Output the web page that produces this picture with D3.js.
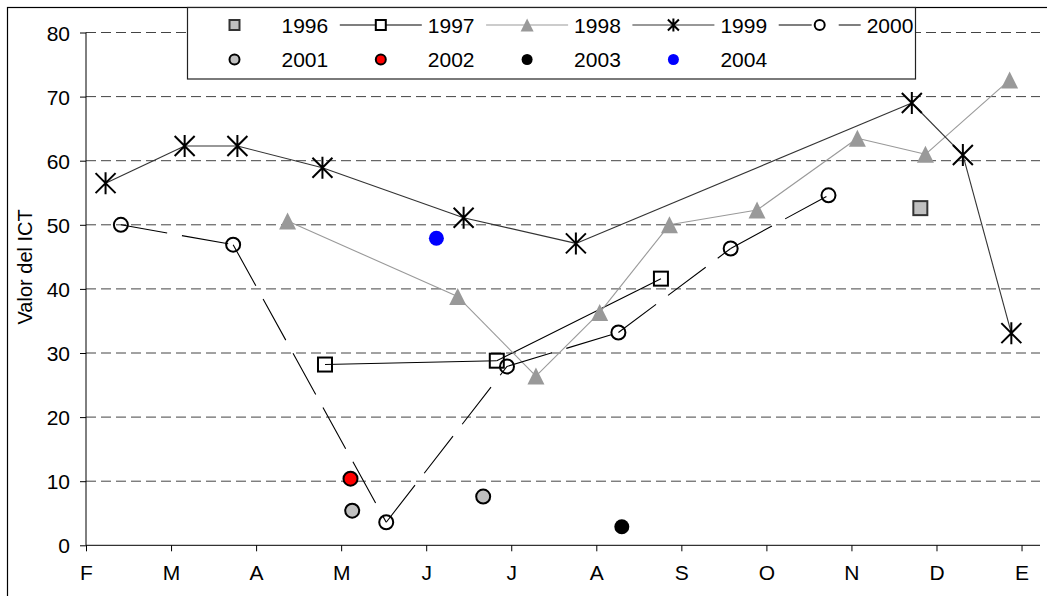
<!DOCTYPE html>
<html>
<head>
    <meta charset="UTF-8">
    <title>Valor del ICT</title>
    <script type="text/javascript" src="https://d3js.org/d3.v7.min.js"></script>
    <style>
        body { margin: 0; background: #fff; }
        text { font-family: "Liberation Sans", Arial, sans-serif; font-size: 21px; fill: #000; }
    </style>
</head>
<body>
<div id="chart"></div>
<script>
    // month tick labels; x is measured in months from the first tick (F)
    var monthLabels = ["F", "M", "A", "M", "J", "J", "A", "S", "O", "N", "D", "E"];
    var monthPos = [0, 1, 2, 3, 4, 5, 6, 7, 8, 9, 10, 11];
    var yTicks = [0, 10, 20, 30, 40, 50, 60, 70, 80];

    // one pair of arrays per year: position (months) and ICT value
    var mon1996 = [9.81];
    var ict1996 = [52.6];
    var mon1997 = [2.81, 4.83, 6.76];
    var ict1997 = [28.2, 28.8, 41.6];
    var mon1998 = [2.37, 4.37, 5.29, 6.04, 6.86, 7.89, 9.07, 9.87, 10.86];
    var ict1998 = [50.6, 38.8, 26.4, 36.3, 50.0, 52.3, 63.5, 61.0, 72.6];
    var mon1999 = [0.23, 1.16, 1.78, 2.78, 4.44, 5.76, 9.71, 10.31, 10.88];
    var ict1999 = [56.5, 62.3, 62.3, 58.9, 51.1, 47.1, 69.0, 60.9, 33.1];
    var mon2000 = [0.41, 1.73, 3.53, 4.95, 6.26, 7.58, 8.73];
    var ict2000 = [50.0, 46.9, 3.6, 27.9, 33.2, 46.3, 54.6];
    var mon2001 = [3.13, 4.67];
    var ict2001 = [5.4, 7.6];
    var mon2002 = [3.11];
    var ict2002 = [10.4];
    var mon2003 = [6.30];
    var ict2003 = [2.9];
    var mon2004 = [4.12];
    var ict2004 = [47.9];

    var width = 1047, height = 596;
    var margin = {top: 32.5, right: 7, bottom: 50.7, left: 86};
    var xMax = 11.217;

    var svg = d3.select("#chart").append("svg")
        .attr("width", width).attr("height", height);

    // outer chart frame
    svg.append("rect")
        .attr("x", 7.5).attr("y", 7.5)
        .attr("width", width).attr("height", height)
        .attr("fill", "none").attr("stroke", "#000").attr("stroke-width", 1.2);

    var x = d3.scaleLinear().domain([0, xMax]).range([margin.left, width - margin.right]);
    var y = d3.scaleLinear().domain([0, 80]).range([height - margin.bottom, margin.top]);

    // dashed gridlines
    svg.append("g").selectAll("line")
        .data(yTicks.filter(function (d) { return d > 0; }))
        .enter().append("line")
        .attr("x1", x(0)).attr("x2", x(xMax))
        .attr("y1", function (d) { return y(d); })
        .attr("y2", function (d) { return y(d); })
        .attr("stroke", "#444").attr("stroke-width", 1)
        .attr("stroke-dasharray", "10,5");

    // y axis
    var yAxis = svg.append("g")
        .attr("transform", "translate(" + x(0) + ",0)")
        .call(d3.axisLeft(y).tickValues(yTicks).tickSize(6).tickPadding(10));
    // x axis
    var xAxis = svg.append("g")
        .attr("transform", "translate(0," + y(0) + ")")
        .call(d3.axisBottom(x).tickValues(monthPos).tickSize(6).tickPadding(14)
            .tickFormat(function (d, i) { return monthLabels[i]; }));

    [yAxis, xAxis].forEach(function (a) {
        a.select(".domain").attr("stroke", "#000");
        a.selectAll(".tick line").attr("stroke", "#000");
        a.selectAll("text").attr("fill", "#000");
        a.attr("font-size", null).attr("font-family", null);
    });
    yAxis.select(".domain").attr("d", "M0," + y(80) + "V" + y(0));
    xAxis.select(".domain").attr("d", "M" + x(0) + ",0H" + x(xMax));
    yAxis.selectAll(".tick text").attr("dy", "0.36em");

    svg.append("text")
        .attr("transform", "translate(" + 32 + "," + (y(40) - 22) + ") rotate(-90)")
        .attr("text-anchor", "middle")
        .style("font-size", "20px")
        .text("Valor del ICT");

    function pts(xs, vals) {
        return xs.map(function (d, i) { return [x(d), y(vals[i])]; });
    }

    var line = d3.line();
    var lines = [
        {p: pts(mon1997, ict1997), stroke: "#000", dash: null},
        {p: pts(mon1998, ict1998), stroke: "#999", dash: null},
        {p: pts(mon1999, ict1999), stroke: "#333", dash: null},
        {p: pts(mon2000, ict2000), stroke: "#000", dash: "47,15"}
    ];
    lines.forEach(function (l) {
        // each segment restarts the dash pattern
        for (var i = 0; i < l.p.length - 1; i++) {
            svg.append("path")
                .attr("d", line([l.p[i], l.p[i + 1]]))
                .attr("fill", "none").attr("stroke", l.stroke).attr("stroke-width", 1.1)
                .attr("stroke-dasharray", l.dash);
        }
    });

    // marker drawers
    function square(g, cx, cy, s, fill, stroke) {
        g.append("rect").attr("x", cx - s / 2).attr("y", cy - s / 2)
            .attr("width", s).attr("height", s)
            .attr("fill", fill).attr("stroke", stroke).attr("stroke-width", 2);
    }
    function triangle(g, cx, cy, s) {
        g.append("path")
            .attr("d", "M" + cx + "," + (cy - s / 2) + "L" + (cx + s / 2) + "," + (cy + s / 2) + "L" + (cx - s / 2) + "," + (cy + s / 2) + "Z")
            .attr("fill", "#999");
    }
    function star(g, cx, cy, r) {
        g.append("path")
            .attr("d", "M" + cx + "," + (cy - r - 1) + "V" + (cy + r + 1) +
                "M" + (cx - r) + "," + (cy - r) + "L" + (cx + r) + "," + (cy + r) +
                "M" + (cx - r) + "," + (cy + r) + "L" + (cx + r) + "," + (cy - r))
            .attr("stroke", "#000").attr("stroke-width", 2).attr("fill", "none");
    }
    function circle(g, cx, cy, r, fill, stroke) {
        g.append("circle").attr("cx", cx).attr("cy", cy).attr("r", r)
            .attr("fill", fill).attr("stroke", stroke).attr("stroke-width", stroke === "none" ? 0 : 2);
    }

    var marks = svg.append("g");
    pts(mon1996, ict1996).forEach(function (p) { square(marks, p[0], p[1], 14, "#c0c0c0", "#333"); });
    pts(mon1997, ict1997).forEach(function (p) { square(marks, p[0], p[1], 14, "none", "#000"); });
    pts(mon1998, ict1998).forEach(function (p) { triangle(marks, p[0], p[1], 17); });
    pts(mon1999, ict1999).forEach(function (p) { star(marks, p[0], p[1], 10); });
    pts(mon2000, ict2000).forEach(function (p) { circle(marks, p[0], p[1], 7, "none", "#000"); });
    pts(mon2001, ict2001).forEach(function (p) { circle(marks, p[0], p[1], 7, "#c0c0c0", "#000"); });
    pts(mon2002, ict2002).forEach(function (p) { circle(marks, p[0], p[1], 7, "#ff0000", "#000"); });
    pts(mon2003, ict2003).forEach(function (p) { circle(marks, p[0], p[1], 7.5, "#000", "none"); });
    pts(mon2004, ict2004).forEach(function (p) { circle(marks, p[0], p[1], 7.5, "#0000ff", "none"); });

    // legend
    var lg = svg.append("g");
    lg.append("rect").attr("x", 187.5).attr("y", 7.5).attr("width", 728).attr("height", 71.5)
        .attr("fill", "#fff").attr("stroke", "#222").attr("stroke-width", 1.2);

    var legendYears = ["1996", "1997", "1998", "1999", "2000", "2001", "2002", "2003", "2004"];
    var legendLine = {"1997": "#000", "1998": "#999", "1999": "#333", "2000": "#000"};
    legendYears.forEach(function (yr, i) {
        var col = i % 5, row = Math.floor(i / 5);
        var cx = 234.5 + col * 146.3, cy = row === 0 ? 25 : 59.5;
        var it = lg.append("g");
        if (legendLine[yr]) {
            it.append("line").attr("x1", cx - 41).attr("x2", cx + 41)
                .attr("y1", cy).attr("y2", cy)
                .attr("stroke", legendLine[yr]).attr("stroke-width", 1.1)
                .attr("stroke-dasharray", yr === "2000" ? "33,27" : null);
        }
        if (yr === "1996") square(it, cx, cy, 10, "#c0c0c0", "#333");
        if (yr === "1997") square(it, cx, cy, 10, "#fff", "#000");
        if (yr === "1998") triangle(it, cx, cy, 13);
        if (yr === "1999") star(it, cx, cy, 5.5);
        if (yr === "2000") circle(it, cx, cy, 5, "#fff", "#000");
        if (yr === "2001") circle(it, cx, cy, 5, "#c0c0c0", "#000");
        if (yr === "2002") circle(it, cx, cy, 5, "#ff0000", "#000");
        if (yr === "2003") circle(it, cx, cy, 5.5, "#000", "none");
        if (yr === "2004") circle(it, cx, cy, 5.5, "#0000ff", "none");
        it.append("text").attr("x", cx + 47).attr("y", cy).attr("dy", "0.36em").text(yr);
    });
</script>
</body>
</html>
